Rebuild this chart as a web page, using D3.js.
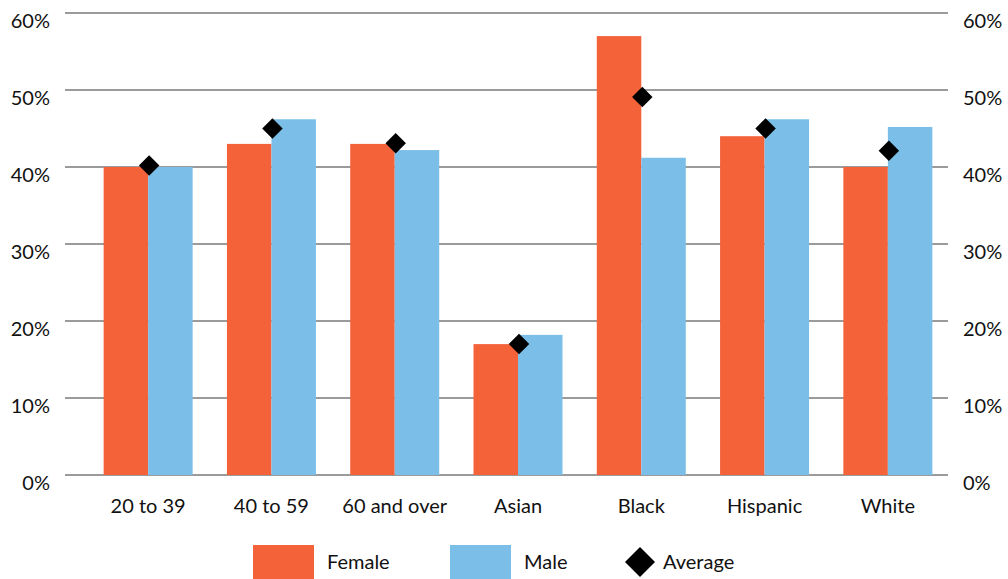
<!DOCTYPE html>
<html>
<head>
<meta charset="utf-8">
<script src="https://cdn.jsdelivr.net/npm/d3@7"></script>
<style>
  body { margin: 0; background: #fff; }
  text { font-family: Lato, "Open Sans", sans-serif; fill: #111; }
</style>
</head>
<body>
<div id="chart"></div>
<script>
const categories = ["20 to 39", "40 to 59", "60 and over", "Asian", "Black", "Hispanic", "White"];
const female = [40, 43, 43, 17, 57, 44, 40];
const male = [40, 46.2, 42.2, 18.2, 41.2, 46.2, 45.2];
const average = [40.2, 45, 43.1, 17, 49.1, 45, 42.1];
const ticks = [0, 10, 20, 30, 40, 50, 60];

const width = 1008, height = 579;
const colors = { female: "#f4623a", male: "#7bbfe8" };

const svg = d3.select("#chart")
  .append("svg")
  .attr("width", width)
  .attr("height", height);

// scales
const y = d3.scaleLinear().domain([0, 60]).range([475, 13]);
const x = d3.scaleBand().domain(categories).range([86.5, 949.5]);
const barW = 44.5;

// gridlines
svg.append("g")
  .selectAll("line")
  .data(ticks)
  .enter()
  .append("line")
  .attr("x1", 65)
  .attr("x2", 948)
  .attr("y1", (d) => y(d))
  .attr("y2", (d) => y(d))
  .attr("stroke", "#7a7a7a")
  .attr("stroke-width", 1.5);

// left and right tick labels
const tickG = svg.append("g").style("font-size", "20px");
tickG.selectAll("text.left")
  .data(ticks)
  .enter()
  .append("text")
  .attr("class", "left")
  .attr("x", 50)
  .attr("y", (d) => y(d) + 15)
  .attr("text-anchor", "end")
  .text((d) => d + "%");
tickG.selectAll("text.right")
  .data(ticks)
  .enter()
  .append("text")
  .attr("class", "right")
  .attr("x", 963)
  .attr("y", (d) => y(d) + 15)
  .attr("text-anchor", "start")
  .text((d) => d + "%");

const center = (c) => x(c) + x.bandwidth() / 2;

// bars
const bars = svg.append("g");
bars.selectAll("rect.female")
  .data(categories)
  .enter()
  .append("rect")
  .attr("x", (d) => center(d) - barW)
  .attr("y", (d, i) => y(female[i]))
  .attr("width", barW)
  .attr("height", (d, i) => y(0) - y(female[i]))
  .attr("fill", colors.female);
bars.selectAll("rect.male")
  .data(categories)
  .enter()
  .append("rect")
  .attr("x", (d) => center(d))
  .attr("y", (d, i) => y(male[i]))
  .attr("width", barW)
  .attr("height", (d, i) => y(0) - y(male[i]))
  .attr("fill", colors.male);

// average diamonds
const diamond = d3.symbol().type(d3.symbolSquare);
svg.append("g")
  .selectAll("path")
  .data(categories)
  .enter()
  .append("path")
  .attr("d", diamond.size(210)())
  .attr("transform", (d, i) => `translate(${center(d) + 1},${y(average[i])}) rotate(45)`)
  .attr("fill", "#000");

// category labels
svg.append("g")
  .style("font-size", "20px")
  .selectAll("text")
  .data(categories)
  .enter()
  .append("text")
  .attr("x", (d) => center(d))
  .attr("y", 513)
  .attr("text-anchor", "middle")
  .text((d) => d);

// legend
const legend = svg.append("g").style("font-size", "20px");
legend.append("rect").attr("x", 253).attr("y", 545).attr("width", 61).attr("height", 34).attr("fill", colors.female);
legend.append("text").attr("x", 327).attr("y", 569).text("Female");
legend.append("rect").attr("x", 450).attr("y", 545).attr("width", 61).attr("height", 34).attr("fill", colors.male);
legend.append("text").attr("x", 524).attr("y", 569).text("Male");
legend.append("path")
  .attr("d", diamond.size(450)())
  .attr("transform", "translate(640,562) rotate(45)")
  .attr("fill", "#000");
legend.append("text").attr("x", 663).attr("y", 569).text("Average");
</script>
</body>
</html>
